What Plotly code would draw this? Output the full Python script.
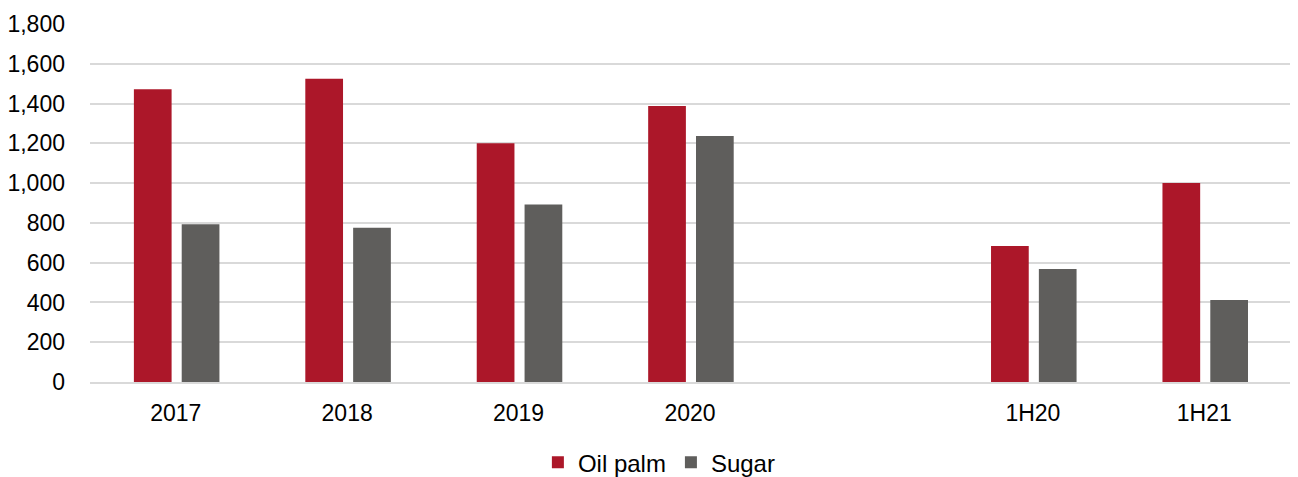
import plotly.graph_objects as go

# Planted area by crop ('000 ha) per period; blank slot separates full years from half years
categories = ["2017", "2018", "2019", "2020", " ", "1H20", "1H21"]
oil_palm = [1472, 1525, 1200, 1388, None, 684, 1001]
sugar = [793, 776, 893, 1237, None, 568, 412]

RED = "#AC1729"
GREY = "#5F5E5C"
FONT = "Liberation Sans, Arial, sans-serif"

fig = go.Figure()
fig.add_trace(go.Bar(
    x=categories, y=oil_palm, name="Oil palm",
    marker=dict(color=RED, line=dict(width=0)),
    width=0.22, offset=-0.244,
))
fig.add_trace(go.Bar(
    x=categories, y=sugar, name="Sugar",
    marker=dict(color=GREY, line=dict(width=0)),
    width=0.22, offset=0.035,
))

fig.update_layout(
    width=1298, height=477,
    margin=dict(l=90, r=8, t=24, b=95, autoexpand=False),
    paper_bgcolor="white", plot_bgcolor="white",
    font=dict(family=FONT, size=23, color="#000000"),
    barmode="overlay",
    showlegend=True,
    legend=dict(
        orientation="h", xref="container", yref="container",
        x=0.508, xanchor="center", y=0.03, yanchor="middle",
        font=dict(size=24), itemwidth=30, traceorder="normal",
    ),
    xaxis=dict(
        type="category", categoryorder="array", categoryarray=categories,
        showgrid=False, showline=True, linecolor="#D9D9D9", linewidth=1.5,
        ticks="", ticklabelstandoff=10, fixedrange=True,
    ),
    yaxis=dict(
        range=[0, 1800], dtick=200, tickformat=",",
        showgrid=True, gridcolor="#D9D9D9", gridwidth=1.5,
        zeroline=False, showline=False, ticks="",
        ticklabelstandoff=24, fixedrange=True,
    ),
)

fig.write_html("out.html")
